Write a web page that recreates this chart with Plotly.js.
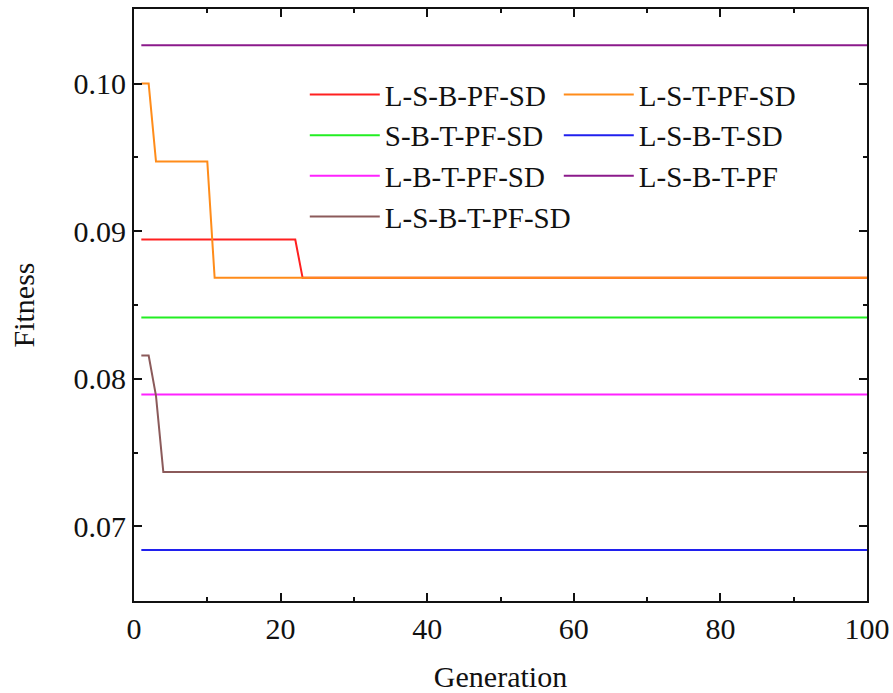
<!DOCTYPE html>
<html>
<head>
<meta charset="utf-8">
<script src="https://cdn.plot.ly/plotly-3.0.1.min.js"></script>
<style>html,body{margin:0;padding:0;background:#fff;}#chart{width:893px;height:693px;}</style>
</head>
<body>
<div id="chart"></div>
<script>
// Series names (legend order)
const names = ["L-S-B-PF-SD", "L-S-T-PF-SD", "S-B-T-PF-SD", "L-S-B-T-SD", "L-B-T-PF-SD", "L-S-B-T-PF", "L-S-B-T-PF-SD"];
const colors = ["#ff2020", "#ff8c1a", "#22ee22", "#2020ee", "#ff22ff", "#8b1a8b", "#8b5a5a"];

// Generation at each vertex and fitness values
const genLSBPFSD = [1, 22, 23, 100];
const fitLSBPFSD = [0.08944, 0.08944, 0.08684, 0.08684];

const genLSTPFSD = [1, 2, 3, 10, 11, 100];
const fitLSTPFSD = [0.1000, 0.1000, 0.09472, 0.09472, 0.08684, 0.08684];

const genSBTPFSD = [1, 100];
const fitSBTPFSD = [0.08416, 0.08416];

const genLSBTSD = [1, 100];
const fitLSBTSD = [0.06840, 0.06840];

const genLBTPFSD = [1, 100];
const fitLBTPFSD = [0.07894, 0.07894];

const genLSBTPF = [1, 100];
const fitLSBTPF = [0.10259, 0.10259];

const genLSBTPFSD = [1, 2, 3, 4, 100];
const fitLSBTPFSD = [0.08158, 0.08158, 0.07885, 0.07368, 0.07368];

const xs = [genLSBPFSD, genLSTPFSD, genSBTPFSD, genLSBTSD, genLBTPFSD, genLSBTPF, genLSBTPFSD];
const ys = [fitLSBPFSD, fitLSTPFSD, fitSBTPFSD, fitLSBTSD, fitLBTPFSD, fitLSBTPF, fitLSBTPFSD];

const xTicks = [0, 20, 40, 60, 80, 100];
const yTicks = [0.07, 0.08, 0.09, 0.10];
const yTickText = ["0.07", "0.08", "0.09", "0.10"];

const traces = names.map((n, i) => ({
  x: xs[i], y: ys[i], name: n, type: "scatter", mode: "lines",
  line: {color: colors[i], width: 2}
}));

const font = {family: "Liberation Serif, Times New Roman, serif", size: 30, color: "#111"};

const layout = {
  width: 893, height: 693,
  margin: {l: 134, r: 26, t: 9, b: 92},
  paper_bgcolor: "#fff", plot_bgcolor: "#fff",
  font: font,
  showlegend: true,
  legend: {
    x: 0.233, y: 0.8985, xanchor: "left", yanchor: "top",
    orientation: "h", entrywidth: 169, entrywidthmode: "pixels",
    itemwidth: 70, bgcolor: "rgba(0,0,0,0)",
    font: {family: font.family, size: 29, color: "#111"}
  },
  xaxis: {
    range: [0, 100], tickvals: xTicks, ticktext: xTicks.map(String),
    ticks: "inside", ticklen: 8, tickwidth: 2, tickcolor: "#111",
    minor: {dtick: 10, ticks: "inside", ticklen: 4, tickwidth: 2, tickcolor: "#111"},
    showline: true, linewidth: 2, linecolor: "#111", mirror: "allticks",
    showgrid: false, zeroline: false,
    tickfont: {family: font.family, size: 30, color: "#111"},
    title: {text: "Generation", font: {family: font.family, size: 30, color: "#111"}, standoff: 22}
  },
  yaxis: {
    range: [0.06495, 0.10505], tickvals: yTicks, ticktext: yTickText,
    ticks: "inside", ticklen: 8, tickwidth: 2, tickcolor: "#111",
    minor: {tickvals: [0.065, 0.075, 0.085, 0.095, 0.105], ticks: "inside", ticklen: 4, tickwidth: 2, tickcolor: "#111"},
    showline: true, linewidth: 2, linecolor: "#111", mirror: "allticks",
    showgrid: false, zeroline: false,
    tickfont: {family: font.family, size: 30, color: "#111"},
    title: {text: "Fitness", font: {family: font.family, size: 30, color: "#111"}, standoff: 30}
  }
};

Plotly.newPlot("chart", traces, layout, {displayModeBar: false, staticPlot: true});
</script>
</body>
</html>
